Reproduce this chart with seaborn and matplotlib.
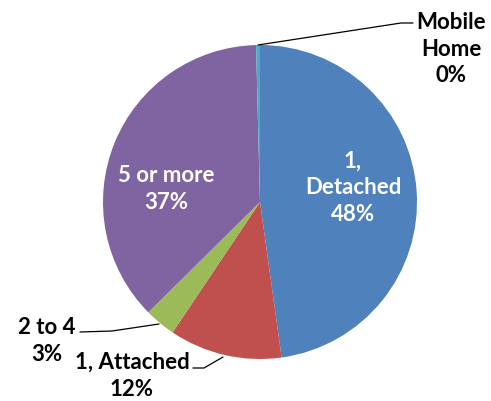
import matplotlib
matplotlib.use("Agg")
import matplotlib.pyplot as plt
import seaborn as sns

sns.set_theme(style="white")
plt.rcParams["font.family"] = ["Lato", "DejaVu Sans"]

categories = ["1, Detached", "1, Attached", "2 to 4", "5 or more", "Mobile Home"]
shares = [47.8, 11.6, 3.2, 37.0, 0.4]
colors = sns.color_palette(["#4F81BD", "#C0504D", "#9BBB59", "#8064A2", "#4BACC6"])

W, H = 491, 401
cx, cy, r = 260, 202, 157

fig = plt.figure(figsize=(W / 100, H / 100), dpi=100)
ax = fig.add_axes([(cx - r) / W, (H - cy - r) / H, 2 * r / W, 2 * r / H])

wedges, _ = ax.pie(shares, colors=colors, startangle=90, counterclock=False,
                   radius=1.0, wedgeprops=dict(linewidth=0))
ax.set_xlim(-1, 1)
ax.set_ylim(-1, 1)
ax.set_aspect("equal")
ax.axis("off")


def px(x, y):
    return ((x - cx) / r, (cy - y) / r)


pct = [f"{round(v):.0f}%" for v in shares]
fs = 16
ls = 1.34
txt_kw = dict(fontsize=fs, fontweight="bold", ha="center", va="center",
              linespacing=ls)

# labels inside the two large slices
ax.text(*px(353, 188), f"1,\nDetached\n{pct[0]}", color="white", **txt_kw)
ax.text(*px(166, 189), f"5 or more\n{pct[3]}", color="white", **txt_kw)

# outside labels with leader lines
line_kw = dict(color="black", lw=0.9, clip_on=False)
ax.plot(*zip(px(258, 45), px(401, 23), px(413, 23)), **line_kw)
ax.text(*px(451, 49), f"Mobile\nHome\n{pct[4]}", color="black", **txt_kw)

ax.plot(*zip(px(159, 324), px(112, 331), px(80, 332)), **line_kw)
ax.text(*px(47, 341), f"2 to 4\n{pct[2]}", color="black", **txt_kw)

ax.plot(*zip(px(223, 357), px(204, 368), px(193, 368)), **line_kw)
ax.text(*px(132, 376), f"{categories[1]}\n{pct[1]}", color="black", **txt_kw)

fig.savefig("out.png", dpi=100, facecolor="white")
